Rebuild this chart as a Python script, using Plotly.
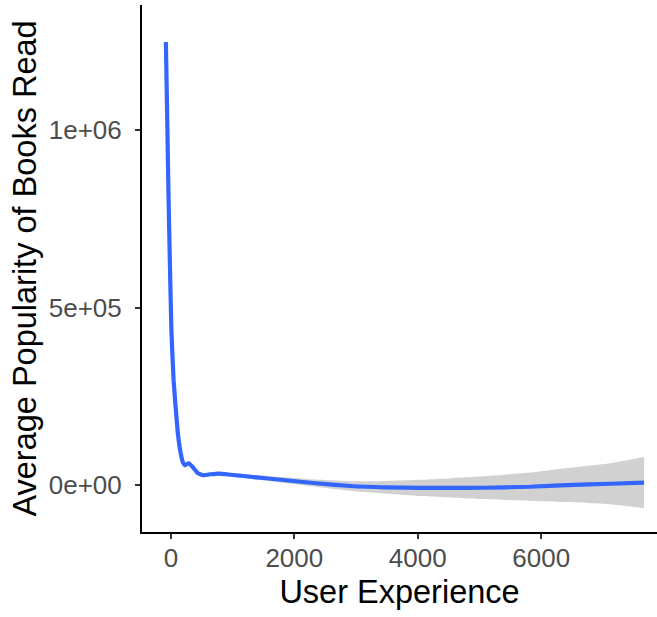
import plotly.graph_objects as go

# Smoothed fit of average book popularity against user experience
experience = [-81, -37, 8, 44, 108, 150, 194, 226, 291, 356, 437, 534, 647,
              776, 970, 1294, 1779, 2264, 2960, 3500, 4043, 4550, 5062, 5822,
              6421, 7116, 7666]
popularity = [1247900, 802800, 436600, 295800, 154900, 98600, 64800, 56300, 62000,
              50700, 33800, 28200, 31000, 32960, 29600, 23900, 15500, 7000, -2800,
              -5800, -7600, -7600, -7000, -4200, 600, 4200, 7600]
# half-width of the 95% confidence band
ci_half = [5000, 5000, 5000, 5000, 5000, 5000, 5000, 5000, 5000, 5000, 5000, 5000,
           5000, 5000, 5000, 6000, 8000, 10000, 14000, 18000, 23000, 27500, 32000,
           40000, 48000, 58000, 72000]

y_ticks = [0, 500000, 1000000]
y_tick_labels = ["0e+00", "5e+05", "1e+06"]
x_ticks = [0, 2000, 4000, 6000]

upper = [p + h for p, h in zip(popularity, ci_half)]
lower = [p - h for p, h in zip(popularity, ci_half)]

smooth = dict(shape="spline", smoothing=0.4)

fig = go.Figure()
# confidence band: lower edge, then upper edge filled down to it
fig.add_trace(go.Scatter(
    x=experience, y=lower, mode="lines",
    line=dict(width=0, **smooth), hoverinfo="skip", showlegend=False,
))
fig.add_trace(go.Scatter(
    x=experience, y=upper, mode="lines", fill="tonexty",
    fillcolor="rgba(153,153,153,0.45)",
    line=dict(width=0, **smooth), hoverinfo="skip", showlegend=False,
))
fig.add_trace(go.Scatter(
    x=experience, y=popularity, mode="lines",
    line=dict(color="#3366FF", width=4.2, **smooth),
    showlegend=False,
))

font_family = "Liberation Sans, Arial, sans-serif"
axis_common = dict(
    showgrid=False, zeroline=False, showline=True, linecolor="black", linewidth=2,
    ticks="outside", ticklen=5, tickwidth=2, tickcolor="#333333",
    tickfont=dict(family=font_family, size=26, color="#4D4D4D"),
)

fig.update_layout(
    width=657, height=617,
    margin=dict(l=142, r=0, t=5, b=85),
    plot_bgcolor="white", paper_bgcolor="white",
    xaxis=dict(
        range=[-468, 7876], tickvals=x_ticks, ticklabelstandoff=-3,
        title=dict(text="User Experience", standoff=8,
                   font=dict(family=font_family, size=32.5, color="black")),
        **axis_common,
    ),
    yaxis=dict(
        range=[-131600, 1352000], tickvals=y_ticks, ticktext=y_tick_labels,
        ticklabelstandoff=8,
        title=dict(text="Average Popularity of Books Read", standoff=2,
                   font=dict(family=font_family, size=32.5, color="black")),
        **axis_common,
    ),
)

fig.write_html("out.html")
